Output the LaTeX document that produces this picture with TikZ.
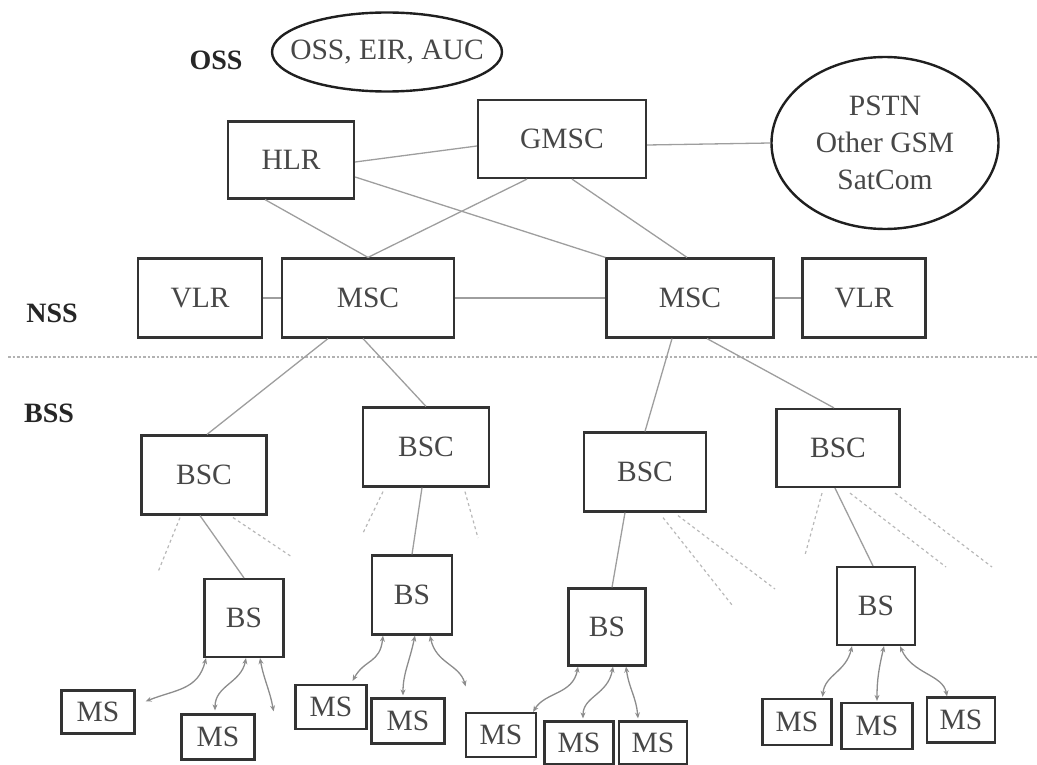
\documentclass[tikz,border=0pt]{standalone}
\usepackage{fontspec}
\setmainfont{Liberation Serif}
\usetikzlibrary{shapes.geometric,arrows.meta}
\begin{document}
\begin{tikzpicture}[x=1pt,y=-1pt,
  every node/.style={font=\fontsize{29.5}{37}\selectfont, text=black!72},
  unit/.style={draw=black!80, line width=2.2pt, rectangle, inner sep=0pt},
  cloud/.style={draw=black!88, line width=2.4pt, ellipse, inner sep=0pt, align=center},
  tier/.style={font=\fontsize{28}{34}\selectfont\bfseries, text=black!85},
  wire/.style={draw=black!38, line width=1.3pt},
  spare/.style={draw=black!28, line width=1.2pt, dash pattern=on 3pt off 3pt},
  radio/.style={wire, draw=black!45, <->, >={Stealth[length=6pt,width=5pt]}},
  boundary/.style={draw=black!30, line width=1.2pt, dash pattern=on 2.5pt off 2pt}
]
\useasboundingbox (0,0) rectangle (1037,765);

% layer labels
\node[tier] (oss) at (216,60) {OSS};
\node[tier] (nss) at (52,313) {NSS};
\node[tier] (bss) at (49,413) {BSS};

% operation and external networks
\node[cloud, inner xsep=-18pt, minimum width=230pt, minimum height=79pt] (eir) at (387,52) {OSS, EIR, AUC};
\node[cloud, minimum width=227pt, minimum height=172pt] (pstn) at (885,143)
  {PSTN\\Other GSM\\SatCom};

% core network
\node[unit, minimum width=126pt, minimum height=77pt] (hlr)  at (291,160) {HLR};
\node[unit, minimum width=168pt, minimum height=78pt] (gmsc) at (562,139) {GMSC};
\node[unit, minimum width=124pt, minimum height=79pt] (vlra) at (200,298) {VLR};
\node[unit, minimum width=172pt, minimum height=79pt] (msca) at (368,298) {MSC};
\node[unit, minimum width=167pt, minimum height=79pt] (mscb) at (690,298) {MSC};
\node[unit, minimum width=123pt, minimum height=79pt] (vlrb) at (864,298) {VLR};

% NSS / BSS boundary
\coordinate (sepL) at (8,357);
\coordinate (sepR) at (1037,357);
\draw[boundary] (sepL) -- (sepR);

% base station controllers
\node[unit, minimum width=125pt, minimum height=79pt] (bsca) at (204,475) {BSC};
\node[unit, minimum width=126pt, minimum height=79pt] (bscb) at (426,447) {BSC};
\node[unit, minimum width=122pt, minimum height=79pt] (bscc) at (645,472) {BSC};
\node[unit, minimum width=123pt, minimum height=78pt] (bscd) at (838,448) {BSC};

% base stations
\node[unit, minimum width=79pt, minimum height=78pt] (bsa) at (244,618) {BS};
\node[unit, minimum width=80pt, minimum height=79pt] (bsb) at (412,595) {BS};
\node[unit, minimum width=77pt, minimum height=77pt] (bsc) at (607,627) {BS};
\node[unit, minimum width=78pt, minimum height=78pt] (bsd) at (876,606) {BS};

% mobile stations
\node[unit, minimum width=73pt, minimum height=43pt] (ms1)  at (98,712)  {MS};
\node[unit, minimum width=73pt, minimum height=45pt] (ms2)  at (218,737) {MS};
\node[unit, minimum width=71pt, minimum height=44pt] (ms3)  at (331,707) {MS};
\node[unit, minimum width=73pt, minimum height=45pt] (ms4)  at (408,721) {MS};
\node[unit, minimum width=70pt, minimum height=44pt] (ms5)  at (501,735) {MS};
\node[unit, minimum width=69pt, minimum height=43pt] (ms6)  at (579,743) {MS};
\node[unit, minimum width=68pt, minimum height=43pt] (ms7)  at (653,743) {MS};
\node[unit, minimum width=69pt, minimum height=46pt] (ms8)  at (797,722) {MS};
\node[unit, minimum width=71pt, minimum height=46pt] (ms9)  at (877,726) {MS};
\node[unit, minimum width=68pt, minimum height=45pt] (ms10) at (961,720) {MS};

% core links
\draw[wire] ([yshift=-2pt]hlr.east) -- ([yshift=-7pt]gmsc.west);
\draw[wire] ([xshift=-26pt]hlr.south) -- (msca.north);
\draw[wire] ([xshift=-35pt]gmsc.south) -- (msca.north);
\draw[wire] ([yshift=-17pt]hlr.east) -- (mscb.north west);
\draw[wire] ([xshift=10pt]gmsc.south) -- ([xshift=-3pt]mscb.north);
\draw[wire] ([yshift=-6pt]gmsc.east) -- (pstn.west);
\draw[wire] (vlra) -- (msca);
\draw[wire] (msca) -- (mscb);
\draw[wire] (mscb) -- (vlrb);

% MSC to BSC
\draw[wire] ([xshift=-40pt]msca.south) -- ([xshift=3pt]bsca.north);
\draw[wire] ([xshift=-5pt]msca.south) -- (bscb.north);
\draw[wire] ([xshift=-18pt]mscb.south) -- (bscc.north);
\draw[wire] ([xshift=17pt]mscb.south) -- ([xshift=-4pt]bscd.north);

% BSC to BS
\draw[wire] ([xshift=-4pt]bsca.south) -- (bsa.north);
\draw[wire] ([xshift=-4pt]bscb.south) -- (bsb.north);
\draw[wire] ([xshift=-20pt]bscc.south) -- ([xshift=5pt]bsc.north);
\draw[wire] ([xshift=-3pt]bscd.south) -- ([xshift=-3pt]bsd.north);

% further base stations, not drawn
\coordinate (fa1) at (158,572); \coordinate (fa2) at (292,557);
\coordinate (fb1) at (363,533); \coordinate (fb2) at (478,538);
\coordinate (fc1) at (732,605); \coordinate (fc2) at (775,589);
\coordinate (fd1) at (805,555); \coordinate (fd2) at (946,567); \coordinate (fd3) at (992,567);
\draw[spare] ([xshift=-24pt,yshift=-2pt]bsca.south) -- (fa1);
\draw[spare] ([xshift=29pt,yshift=-2pt]bsca.south) -- (fa2);
\draw[spare] ([xshift=-43pt,yshift=-4pt]bscb.south) -- (fb1);
\draw[spare] ([xshift=39pt,yshift=-4pt]bscb.south) -- (fb2);
\draw[spare] ([xshift=18pt,yshift=-5pt]bscc.south) -- (fc1);
\draw[spare] ([xshift=33pt,yshift=-3pt]bscc.south) -- (fc2);
\draw[spare] ([xshift=-16pt,yshift=-5pt]bscd.south) -- (fd1);
\draw[spare] ([xshift=12pt,yshift=-5pt]bscd.south) -- (fd2);
\draw[spare] ([xshift=57pt,yshift=-5pt]bscd.south) -- (fd3);

% radio links BS <-> MS
\coordinate (ra1) at ([xshift=10pt,yshift=-12pt]ms1.north east);
\coordinate (ra3) at ([xshift=18pt,yshift=2pt]ms2.north east);
\coordinate (rb3) at ([xshift=20pt,yshift=11pt]ms4.north east);
\draw[radio] ([xshift=-38pt]bsa.south) .. controls +(-8,32) and +(30,-12) .. (ra1);
\draw[radio] ([xshift=2pt]bsa.south) .. controls +(-5,25) and +(0,-25) .. ([xshift=-3pt,yshift=3pt]ms2.north);
\draw[radio] ([xshift=16pt]bsa.south) .. controls +(4,22) and +(-4,-22) .. (ra3);

\draw[radio] ([xshift=-29pt]bsb.south) .. controls +(-3,28) and +(12,-22) .. ([xshift=-15pt,yshift=3pt]ms3.north east);
\draw[radio] ([xshift=3pt]bsb.south) .. controls +(-6,28) and +(0,-22) .. ([xshift=-5pt,yshift=2pt]ms4.north);
\draw[radio] ([xshift=18pt]bsb.south) .. controls +(6,28) and +(-6,-22) .. (rb3);

\draw[radio] ([xshift=-29pt]bsc.south) .. controls +(-5,28) and +(12,-20) .. ([xshift=-4pt]ms5.north east);
\draw[radio] ([xshift=6pt]bsc.south) .. controls +(-5,28) and +(0,-22) .. ([xshift=4pt,yshift=2pt]ms6.north);
\draw[radio] ([xshift=19pt]bsc.south) .. controls +(3,22) and +(-2,-22) .. ([xshift=-15pt,yshift=2pt]ms7.north);

\draw[radio] ([xshift=-24pt]bsd.south) .. controls +(-6,26) and +(2,-22) .. ([xshift=-10pt,yshift=1pt]ms8.north east);
\draw[radio] ([xshift=8pt]bsd.south) .. controls +(-5,22) and +(0,-22) .. ([yshift=1pt]ms9.north);
\draw[radio] ([xshift=24pt]bsd.south) .. controls +(12,28) and +(-4,-22) .. ([xshift=-14pt]ms10.north);
\end{tikzpicture}
\end{document}
